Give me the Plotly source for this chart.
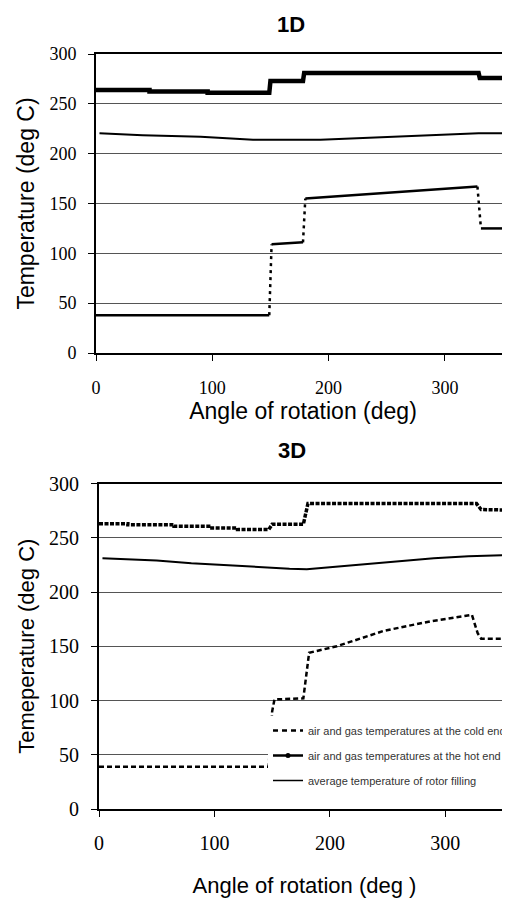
import plotly.graph_objects as go

# ---------------- data ----------------
# 1D model
hot_1d_angle = [0, 46, 46, 96, 96, 149, 150, 178, 179, 329, 330, 356]
hot_1d_temp = [264, 264, 262.5, 262.5, 261, 261, 273, 273, 281, 281, 276, 276]

avg_1d_angle = [3, 40, 90, 135, 193, 240, 287, 329, 356]
avg_1d_temp = [220.5, 218.5, 217, 214, 214, 216.5, 218.5, 220.5, 220.5]

cold_1d_angle = [0, 149, 151, 178, 180, 328, 331, 356]
cold_1d_temp = [38, 38, 109, 111, 155, 167, 125, 125]

# 3D model
hot_3d_angle = [0, 25, 25, 65, 65, 95, 95, 120, 120, 147, 150, 177, 181, 327, 331, 356]
hot_3d_temp = [263, 263, 262, 262, 260.5, 260.5, 259, 259, 257.5, 257.5, 262.5, 262.5,
               281.5, 281.5, 276, 275.5]

avg_3d_angle = [3, 50, 80, 120, 165, 180, 232, 290, 320, 356]
avg_3d_temp = [231, 229, 226.5, 224, 221.5, 221, 226, 231, 233, 234]

cold_3d_angle = [0, 147, 150, 152, 177, 180, 182, 206, 246, 287, 320, 323, 328, 331, 356]
cold_3d_temp = [39, 39, 90, 101, 102, 130, 144, 150, 164, 173, 178, 179, 162, 157, 157]

legend_names = [
    "air and gas temperatures at the cold end",
    "air and gas temperatures at the hot end",
    "average temperature of rotor filling",
]

x_ticks = [0, 100, 200, 300]
y_ticks = [0, 50, 100, 150, 200, 250, 300]


def split_segments(xs, ys, slope=5.0):
    """Split a polyline into flat/gradual parts and steep jumps."""
    sx, sy, jx, jy = [], [], [], []
    for i in range(len(xs) - 1):
        dx = xs[i + 1] - xs[i]
        dy = ys[i + 1] - ys[i]
        if abs(dy) > slope * max(dx, 1e-9):
            jx += [xs[i], xs[i + 1], None]
            jy += [ys[i], ys[i + 1], None]
        else:
            sx += [xs[i], xs[i + 1], None]
            sy += [ys[i], ys[i + 1], None]
    return sx, sy, jx, jy


fig = go.Figure()

# ---- 1D panel ----
fig.add_trace(go.Scatter(x=avg_1d_angle, y=avg_1d_temp, mode="lines",
                         line=dict(color="black", width=2), showlegend=False,
                         xaxis="x", yaxis="y"))
fig.add_trace(go.Scatter(x=hot_1d_angle, y=hot_1d_temp, mode="lines",
                         line=dict(color="black", width=4.5), showlegend=False,
                         xaxis="x", yaxis="y"))
sx, sy, jx, jy = split_segments(cold_1d_angle, cold_1d_temp)
fig.add_trace(go.Scatter(x=sx, y=sy, mode="lines",
                         line=dict(color="black", width=2.5), showlegend=False,
                         xaxis="x", yaxis="y"))
fig.add_trace(go.Scatter(x=jx, y=jy, mode="lines",
                         line=dict(color="black", width=2.5, dash="3px,4px"),
                         showlegend=False, xaxis="x", yaxis="y"))

# ---- 3D panel ----
fig.add_trace(go.Scatter(x=avg_3d_angle, y=avg_3d_temp, mode="lines",
                         line=dict(color="black", width=2), showlegend=False,
                         xaxis="x2", yaxis="y2"))
fig.add_trace(go.Scatter(x=hot_3d_angle, y=hot_3d_temp, mode="lines",
                         line=dict(color="black", width=3.5, dash="4px,1.5px"),
                         showlegend=False, xaxis="x2", yaxis="y2"))
fig.add_trace(go.Scatter(x=cold_3d_angle, y=cold_3d_temp, mode="lines",
                         line=dict(color="black", width=2.5, dash="5px,3px"),
                         showlegend=False, xaxis="x2", yaxis="y2"))

# legend entries (3D panel)
fig.add_trace(go.Scatter(x=[None], y=[None], mode="lines", name=legend_names[0],
                         line=dict(color="black", width=2.5, dash="5px,4px"),
                         legendgroup="a", xaxis="x2", yaxis="y2"))
fig.add_trace(go.Scatter(x=[None], y=[None], mode="lines+markers", name=legend_names[1],
                         line=dict(color="black", width=2.5),
                         marker=dict(color="black", size=5, symbol="circle"),
                         legendgroup="b", xaxis="x2", yaxis="y2"))
fig.add_trace(go.Scatter(x=[None], y=[None], mode="lines", name=legend_names[2],
                         line=dict(color="black", width=1.5),
                         legendgroup="c", xaxis="x2", yaxis="y2"))

# the page body adds an 8px offset; figure is sized to fill the rest of the window
OFF = 8
W, H = 510 - OFF, 900 - OFF


def fx(px):
    return (px - OFF) / W


def fy(py):
    return 1 - (py - OFF) / H


tick_font_top = dict(family="Liberation Serif, Times New Roman, serif", size=18, color="black")
tick_font_bot = dict(family="Liberation Serif, Times New Roman, serif", size=20, color="black")
title_font = dict(family="Liberation Sans, Arial, sans-serif", size=22, color="black")

common_x = dict(range=[0, 356], tickvals=x_ticks, showgrid=False, zeroline=False,
                showline=True, linecolor="black", linewidth=2, mirror=True,
                ticks="outside", ticklen=6, tickcolor="black", tickwidth=1,
                automargin=False)
common_y = dict(range=[0, 300], tickvals=y_ticks, showgrid=True, gridcolor="#555",
                gridwidth=1, zeroline=False, showline=True, linecolor="black",
                linewidth=2, ticks="outside", ticklen=6, tickcolor="black", tickwidth=1,
                automargin=False)

fig.update_layout(
    width=W, height=H,
    margin=dict(l=0, r=0, t=0, b=0, autoexpand=False),
    paper_bgcolor="white", plot_bgcolor="white",
    xaxis=dict(common_x, domain=[fx(96), 1.0], anchor="y", tickfont=tick_font_top,
               ticklabelstandoff=11,
               title=dict(text="Angle of rotation (deg)", font=dict(title_font, size=23),
                          standoff=4)),
    yaxis=dict(common_y, domain=[fy(353), fy(54)], anchor="x", tickfont=tick_font_top,
               ticklabelstandoff=8,
               title=dict(text="Temperature (deg C)", font=dict(title_font, size=23),
                          standoff=8)),
    xaxis2=dict(common_x, domain=[fx(99), 1.0], anchor="y2", tickfont=tick_font_bot,
                ticklabelstandoff=9,
                title=dict(text="Angle of rotation (deg )", font=dict(title_font, size=22),
                           standoff=25)),
    yaxis2=dict(common_y, domain=[fy(809), fy(483.5)], anchor="x2", tickfont=tick_font_bot,
                ticklabelstandoff=8,
                title=dict(text="Temeperature (deg C)", font=dict(title_font, size=22),
                           standoff=8)),
    legend=dict(x=fx(268), y=fy(716), xanchor="left", yanchor="top",
                bgcolor="white", borderwidth=0, tracegroupgap=6,
                font=dict(family="Liberation Sans, Arial, sans-serif", size=11, color="#333")),
    annotations=[
        dict(text="<b>1D</b>", x=fx(291), y=fy(24), xref="paper", yref="paper",
             xanchor="center", yanchor="middle", showarrow=False,
             font=dict(family="Liberation Sans, Arial, sans-serif", size=22, color="black")),
        dict(text="<b>3D</b>", x=fx(292), y=fy(450), xref="paper", yref="paper",
             xanchor="center", yanchor="middle", showarrow=False,
             font=dict(family="Liberation Sans, Arial, sans-serif", size=22, color="black")),
    ],
)

fig.write_html("out.html")
